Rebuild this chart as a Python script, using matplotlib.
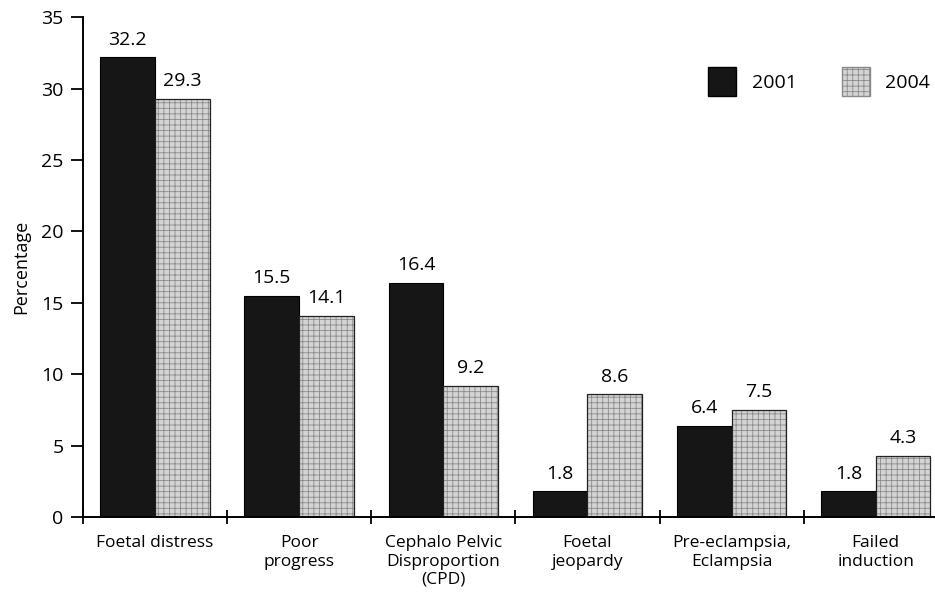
import matplotlib
matplotlib.use("Agg")
import matplotlib.pyplot as plt
import numpy as np
from matplotlib.patches import Patch

categories = ["Foetal distress", "Poor\nprogress", "Cephalo Pelvic\nDisproportion\n(CPD)",
              "Foetal\njeopardy", "Pre-eclampsia,\nEclampsia", "Failed\ninduction"]
years = ["2001", "2004"]
vals_2001 = [32.2, 15.5, 16.4, 1.8, 6.4, 1.8]
vals_2004 = [29.3, 14.1, 9.2, 8.6, 7.5, 4.3]
yticks = [0, 5, 10, 15, 20, 25, 30, 35]

plt.rcParams['font.family'] = ['Open Sans', 'DejaVu Sans']
plt.rcParams['hatch.linewidth'] = 0.6

fig = plt.figure(figsize=(9.35, 5.93), dpi=100)
ax = fig.add_axes([0.0888, 0.128, 0.912, 0.843])

x = np.arange(len(categories)) + 0.5
w = 0.38
x1 = x - w / 2
x2 = x + w / 2

ax.bar(x1, vals_2001, w, color='#161616', edgecolor='black', linewidth=0.8)
ax.bar(x2, vals_2004, w, color='#d4d4d4', edgecolor='#8a8a8a', hatch='+++', linewidth=0)
ax.bar(x2, vals_2004, w, fill=False, edgecolor='#222222', linewidth=0.9)

for xi, v in zip(x1, vals_2001):
    ax.text(xi, v + 0.6, f"{v:.1f}", ha='center', va='bottom', fontsize=14)
for xi, v in zip(x2, vals_2004):
    ax.text(xi, v + 0.6, f"{v:.1f}", ha='center', va='bottom', fontsize=14)

ax.set_xlim(0, (935 - 83) / 144)
ax.set_ylim(0, 35)
ax.set_yticks(yticks)
ax.set_yticklabels([str(t) for t in yticks], fontsize=14)
ax.set_xticks(np.arange(len(categories)))
ax.set_xticklabels([])
ax.set_xticks(x, minor=True)
ax.set_xticklabels(categories, minor=True, fontsize=12.5, linespacing=1.2)
ax.tick_params(axis='x', which='minor', length=0, pad=13)
ax.tick_params(axis='x', which='major', length=10, width=1.3, direction='inout')
ax.tick_params(axis='y', length=9, width=1.3, direction='out', pad=5)
ax.set_ylabel("Percentage", fontsize=13, labelpad=8)

for s in ['top', 'right']:
    ax.spines[s].set_visible(False)
for s in ['left', 'bottom']:
    ax.spines[s].set_linewidth(1.4)

handles = [Patch(facecolor='#161616', edgecolor='black', label=years[0]),
           Patch(facecolor='#d4d4d4', edgecolor='#8a8a8a', hatch='+++', label=years[1])]
ax.legend(handles=handles, loc='upper right', bbox_to_anchor=(1.014, 0.935), ncol=2,
          frameon=False, fontsize=14, handlelength=1.45, handleheight=1.9,
          columnspacing=2.3, handletextpad=0.8)

fig.savefig("out.png", dpi=100)
